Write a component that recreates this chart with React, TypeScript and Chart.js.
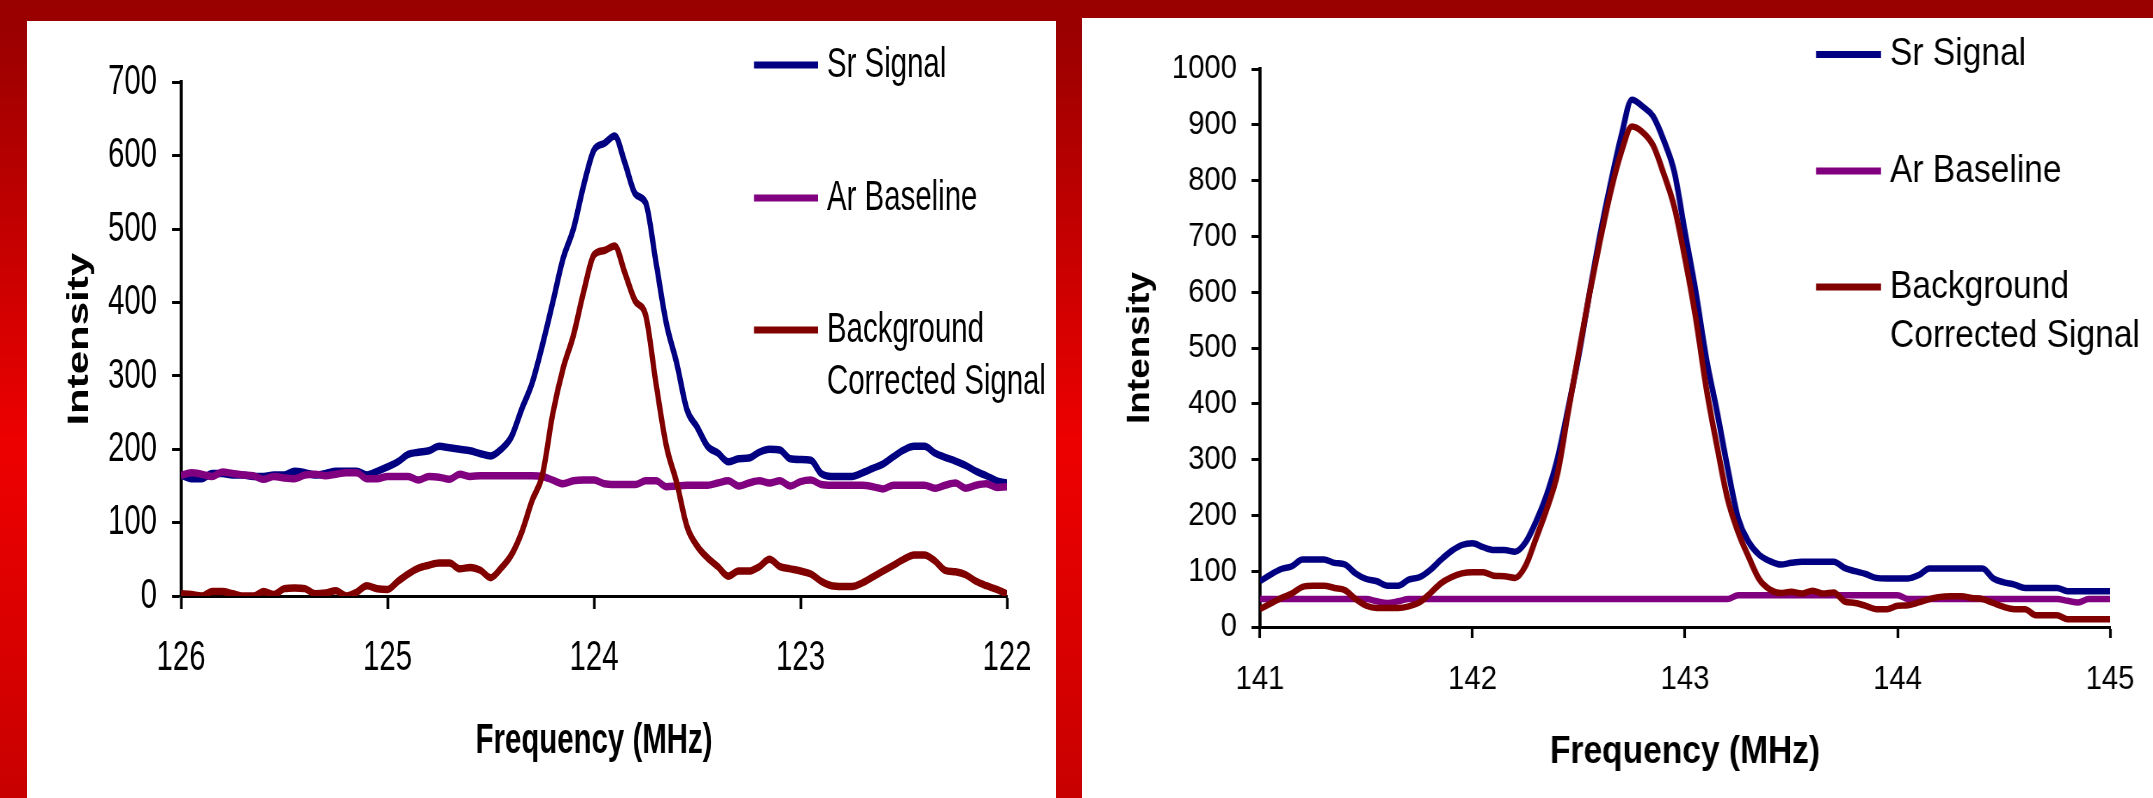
import React, { useEffect, useRef } from 'react';
import { Chart, registerables } from 'chart.js';

Chart.register(...registerables);

const FONT = '"Liberation Sans", Arial, Helvetica, sans-serif';

// ---------- Left chart data (frequency axis runs 126 -> 122) ----------
const leftFreq = [
  126.0, 125.95, 125.9, 125.85, 125.8, 125.75, 125.7, 125.65, 125.6, 125.55,
  125.5, 125.45, 125.4, 125.35, 125.3, 125.25, 125.2, 125.15, 125.1, 125.05,
  125.0, 124.95, 124.9, 124.85, 124.8, 124.75, 124.7, 124.65, 124.6, 124.55,
  124.5, 124.45, 124.4, 124.35, 124.3, 124.25, 124.2, 124.15, 124.1, 124.05,
  124.0, 123.95, 123.9, 123.85, 123.8, 123.75, 123.7, 123.65, 123.6, 123.55,
  123.5, 123.45, 123.4, 123.35, 123.3, 123.25, 123.2, 123.15, 123.1, 123.05,
  123.0, 122.95, 122.9, 122.85, 122.8, 122.75, 122.7, 122.65, 122.6, 122.55,
  122.5, 122.45, 122.4, 122.35, 122.3, 122.25, 122.2, 122.15, 122.1, 122.05,
  122.0,
];
const leftSr = [
  165, 160, 160, 167, 167, 165, 165, 163, 163, 165,
  165, 170, 168, 165, 167, 170, 170, 170, 165, 170,
  176, 183, 193, 196, 198, 204, 202, 200, 198, 194,
  191, 200, 217, 255, 290, 342, 400, 460, 500, 560,
  608, 617, 627, 590, 548, 536, 455, 372, 318, 254,
  230, 204, 195, 183, 187, 188, 196, 200, 199, 187,
  186, 185, 167, 163, 163, 163, 168, 174, 180, 190,
  199, 204, 204, 195, 189, 184, 178, 170, 164, 157,
  154,
];
const leftAr = [
  164, 168, 166, 163, 169, 167, 165, 164, 159, 163,
  161, 160, 165, 166, 164, 166, 168, 168, 160, 160,
  163, 163, 163, 158, 163, 162, 159, 166, 163, 164,
  164, 164, 164, 164, 164, 163, 158, 153, 157, 158,
  158, 153, 152, 152, 152, 157, 157, 149, 150, 151,
  151, 151, 154, 157, 150, 154, 157, 154, 157, 150,
  156, 158, 152, 151, 151, 151, 151, 149, 146, 151,
  151, 151, 151, 147, 151, 154, 147, 151, 153, 148,
  149,
];
const leftBg = [
  3, 2, 0, 6, 6, 3, 0, 0, 6, 2,
  10, 11, 10, 3, 4, 7, 0, 5, 14, 10,
  9, 20, 30, 38, 42, 45, 45, 37, 39, 35,
  25, 38, 56, 87, 130, 165, 248, 310, 355, 415,
  465, 471, 477, 440, 402, 383, 290, 205, 155, 95,
  68, 52, 40, 27, 34, 34, 40, 50, 40, 37,
  34, 30, 20, 14, 13, 13, 18, 26, 34, 42,
  50, 56, 56, 48, 35, 33, 29, 20, 14, 9,
  3,
];
const leftXTicks = [126, 125, 124, 123, 122];
const leftYTicks = [0, 100, 200, 300, 400, 500, 600, 700];

// ---------- Right chart data (frequency axis runs 141 -> 145) ----------
const rightFreq = [
  141.0, 141.05, 141.1, 141.15, 141.2, 141.25, 141.3, 141.35, 141.4, 141.45,
  141.5, 141.55, 141.6, 141.65, 141.7, 141.75, 141.8, 141.85, 141.9, 141.95,
  142.0, 142.05, 142.1, 142.15, 142.2, 142.25, 142.3, 142.35, 142.4, 142.45,
  142.5, 142.55, 142.6, 142.65, 142.7, 142.75, 142.8, 142.85, 142.9, 142.95,
  143.0, 143.05, 143.1, 143.15, 143.2, 143.25, 143.3, 143.35, 143.4, 143.45,
  143.5, 143.55, 143.6, 143.65, 143.7, 143.75, 143.8, 143.85, 143.9, 143.95,
  144.0, 144.05, 144.1, 144.15, 144.2, 144.25, 144.3, 144.35, 144.4, 144.45,
  144.5, 144.55, 144.6, 144.65, 144.7, 144.75, 144.8, 144.85, 144.9, 144.95,
  145.0,
];
const rightSr = [
  82, 94, 104, 109, 121, 121, 121, 115, 112, 96,
  86, 82, 74, 74, 85, 89, 102, 120, 136, 147,
  150, 143, 138, 138, 135, 152, 190, 238, 302, 392,
  487, 597, 702, 795, 880, 945, 933, 915, 872, 815,
  707, 602, 482, 387, 286, 195, 152, 129, 118, 112,
  115, 117, 117, 117, 117, 106, 100, 95, 88, 87,
  87, 87, 93, 105, 105, 105, 105, 105, 105, 87,
  80, 76, 70, 70, 70, 70, 64, 64, 64, 64,
  64,
];
const rightAr = [
  50, 50, 50, 50, 50, 50, 50, 50, 50, 50,
  50, 46, 43, 46, 50, 50, 50, 50, 50, 50,
  50, 50, 50, 50, 50, 50, 50, 50, 50, 50,
  50, 50, 50, 50, 50, 50, 50, 50, 50, 50,
  50, 50, 50, 50, 50, 57, 57, 57, 57, 57,
  57, 57, 57, 57, 57, 57, 57, 57, 57, 57,
  57, 50, 50, 50, 50, 50, 50, 50, 50, 50,
  50, 50, 50, 50, 50, 50, 47, 44, 50, 50,
  50,
];
const rightBg = [
  32, 42, 52, 60, 72, 74, 74, 70, 66, 50,
  38, 34, 34, 34, 37, 44, 60, 78, 89, 96,
  98, 98, 92, 91, 88, 110, 160, 212, 275, 385,
  492, 596, 692, 780, 851, 897, 887, 863, 812, 752,
  660, 555, 428, 325, 230, 170, 125, 85, 67, 61,
  63, 60, 65, 60, 62, 46, 43, 38, 32, 32,
  38, 39, 44, 50, 54, 55, 55, 52, 50, 43,
  36, 32, 32, 21, 21, 21, 14, 14, 14, 14,
  14,
];
const rightXTicks = [141, 142, 143, 144, 145];
const rightYTicks = [0, 100, 200, 300, 400, 500, 600, 700, 800, 900, 1000];

// ---------- Series / text ----------
const seriesNames = ['Sr Signal', 'Ar Baseline', 'Background Corrected Signal'];
const legendText = [['Sr Signal'], ['Ar Baseline'], ['Background', 'Corrected Signal']];
const seriesColors = ['#000080', '#800080', '#800000'];
const seriesOrder = [3, 2, 1];
const xTitle = 'Frequency (MHz)';
const yTitle = 'Intensity';

// ---------- Layout specs (page pixel coordinates) ----------
const leftSpec = {
  left: 27, top: 21, width: 1029, height: 777, squeeze: 0.7,
  plotLeft: 181, plotRight: 1007, plotTop: 82.5, plotBottom: 596,
  xMin: 122, xMax: 126, reverse: true, xTicks: leftXTicks,
  yMin: 0, yMax: 700, yTicks: leftYTicks,
  tickSize: 42, titleSize: 42, yTitleSize: 42,
  yTitleX: 80, xTitleY: 741, yLabelRight: 157, xLabelCenterY: 658,
  xTickLen: 13, yTickLen: 9, xTickWidth: 2.7, yTickWidth: 3,
  xAxisWidth: 3, yAxisWidth: 3.2, lineWidth: 7.5,
  freq: leftFreq, series: [leftSr, leftAr, leftBg],
  legend: { x: 754, end: 818, textX: 827, ys: [65, 198, 330], lineGap: 52, size: 42, lineWidth: 7 },
};

const rightSpec = {
  left: 1082, top: 18, width: 1071, height: 780, squeeze: 0.86,
  plotLeft: 1260, plotRight: 2127, plotTop: 69, plotBottom: 627,
  xMin: 141, xMax: 145, reverse: false, xTicks: rightXTicks,
  yMin: 0, yMax: 1000, yTicks: rightYTicks,
  tickSize: 34, titleSize: 39, yTitleSize: 37,
  yTitleX: 1140, xTitleY: 752, yLabelRight: 1237, xLabelCenterY: 680,
  xTickLen: 11, yTickLen: 8.5, xTickWidth: 2.7, yTickWidth: 3,
  xAxisWidth: 3, yAxisWidth: 3.2, lineWidth: 6.5,
  freq: rightFreq, series: [rightSr, rightAr, rightBg],
  legend: { x: 1816, end: 1881, textX: 1890, ys: [54.5, 171, 287], lineGap: 49, size: 39, lineWidth: 7 },
};

const floatLegend = {
  id: 'floatLegend',
  afterDatasetsDraw(chart: any, _args: any, opts: any) {
    const ctx = chart.ctx;
    ctx.save();
    ctx.font = `${opts.size}px ${FONT}`;
    ctx.textBaseline = 'middle';
    ctx.textAlign = 'left';
    ctx.fillStyle = '#000';
    chart.data.datasets.forEach((ds: any, i: number) => {
      const y = opts.ys[i];
      ctx.strokeStyle = ds.borderColor;
      ctx.lineWidth = opts.lineWidth;
      ctx.lineCap = 'butt';
      ctx.beginPath();
      ctx.moveTo(opts.x, y);
      ctx.lineTo(opts.x + opts.len, y);
      ctx.stroke();
      legendText[i].forEach((t, j) => ctx.fillText(t, opts.textX, y + j * opts.lineGap));
    });
    ctx.restore();
  },
};

function buildConfig(s: any, iw: number, k: number): any {
  const ix = (px: number) => (px - s.left) / k;
  const iy = (py: number) => py - s.top;
  const chartLeft = ix(s.plotLeft);
  const chartRight = ix(s.plotRight);
  const chartTop = iy(s.plotTop);
  const chartBottom = iy(s.plotBottom);
  const xAxisH = s.height - chartBottom;
  const tickLH = s.tickSize * 1.2;
  const titleLH = s.titleSize * 1.2;
  const yTitleLH = s.yTitleSize * 1.2;
  const tickFont = { family: FONT, size: s.tickSize, weight: 'normal' as const };

  return {
    type: 'line',
    data: {
      datasets: s.series.map((vals: number[], i: number) => ({
        label: seriesNames[i],
        data: s.freq.map((f: number, j: number) => ({ x: f, y: vals[j] })),
        borderColor: seriesColors[i],
        backgroundColor: seriesColors[i],
        borderWidth: s.lineWidth,
        pointRadius: 0,
        pointHoverRadius: 0,
        fill: false,
        order: seriesOrder[i],
        cubicInterpolationMode: 'monotone',
        borderJoinStyle: 'round',
      })),
    },
    options: {
      animation: false,
      responsive: false,
      maintainAspectRatio: false,
      devicePixelRatio: 1,
      events: [],
      layout: { padding: { left: 0, top: chartTop, right: iw - chartRight, bottom: 0 } },
      plugins: {
        legend: { display: false },
        tooltip: { enabled: false },
        title: { display: false },
        floatLegend: {
          x: ix(s.legend.x),
          len: (s.legend.end - s.legend.x) / k,
          textX: ix(s.legend.textX),
          ys: s.legend.ys.map(iy),
          lineGap: s.legend.lineGap,
          size: s.legend.size,
          lineWidth: s.legend.lineWidth,
        },
      },
      scales: {
        x: {
          type: 'linear',
          position: 'bottom',
          min: s.xMin,
          max: s.xMax,
          reverse: s.reverse,
          afterBuildTicks: (sc: any) => { sc.ticks = s.xTicks.map((v: number) => ({ value: v })); },
          afterFit: (sc: any) => { sc.height = xAxisH; },
          ticks: {
            color: '#000',
            font: tickFont,
            padding: (s.xLabelCenterY - s.plotBottom) - s.xTickLen - tickLH / 2,
            maxRotation: 0,
            minRotation: 0,
            autoSkip: false,
            callback: (v: any) => String(v),
          },
          grid: {
            drawOnChartArea: false,
            drawTicks: true,
            tickLength: s.xTickLen,
            tickColor: '#000',
            tickWidth: s.xTickWidth / k,
            color: '#000',
          },
          border: { display: true, color: '#000', width: s.xAxisWidth },
          title: {
            display: true,
            text: xTitle,
            color: '#000',
            font: { family: FONT, size: s.titleSize, weight: 'bold' },
            padding: { top: 0, bottom: (s.height - iy(s.xTitleY)) - titleLH / 2 },
          },
        },
        y: {
          type: 'linear',
          position: 'left',
          min: s.yMin,
          max: s.yMax,
          afterBuildTicks: (sc: any) => { sc.ticks = s.yTicks.map((v: number) => ({ value: v })); },
          afterFit: (sc: any) => { sc.width = chartLeft; },
          ticks: {
            color: '#000',
            font: tickFont,
            padding: (s.plotLeft - s.yLabelRight - s.yTickLen) / k,
            autoSkip: false,
            callback: (v: any) => String(v),
          },
          grid: {
            drawOnChartArea: false,
            drawTicks: true,
            tickLength: s.yTickLen / k,
            tickColor: '#000',
            tickWidth: s.yTickWidth,
            color: '#000',
          },
          border: { display: true, color: '#000', width: s.yAxisWidth / k },
          title: {
            display: true,
            text: yTitle,
            color: '#000',
            font: { family: FONT, size: s.yTitleSize, weight: 'bold' },
            padding: { top: ix(s.yTitleX) - yTitleLH / 2, bottom: 0 },
          },
        },
      },
    },
    plugins: [floatLegend],
  };
}

function Panel({ spec }: { spec: any }) {
  const ref = useRef<HTMLCanvasElement | null>(null);
  const iw = Math.round(spec.width / spec.squeeze);
  const k = spec.width / iw;
  useEffect(() => {
    if (!ref.current) return;
    const chart = new Chart(ref.current, buildConfig(spec, iw, k));
    return () => chart.destroy();
  }, []);
  return (
    <div
      style={{
        position: 'absolute',
        left: spec.left,
        top: spec.top,
        width: spec.width,
        height: spec.height,
        background: '#ffffff',
        overflow: 'hidden',
      }}
    >
      <canvas
        ref={ref}
        width={iw}
        height={spec.height}
        style={{
          display: 'block',
          width: iw,
          height: spec.height,
          transform: `scaleX(${k})`,
          transformOrigin: '0 0',
        }}
      />
    </div>
  );
}

export default function App() {
  return (
    <div
      style={{
        position: 'fixed',
        left: 0,
        top: 0,
        width: 2153,
        height: 798,
        overflow: 'hidden',
        background: 'linear-gradient(to bottom, #990000 0%, #9b0000 4%, #ee0000 56%, #c80000 100%)',
      }}
    >
      <Panel spec={leftSpec} />
      <Panel spec={rightSpec} />
    </div>
  );
}
